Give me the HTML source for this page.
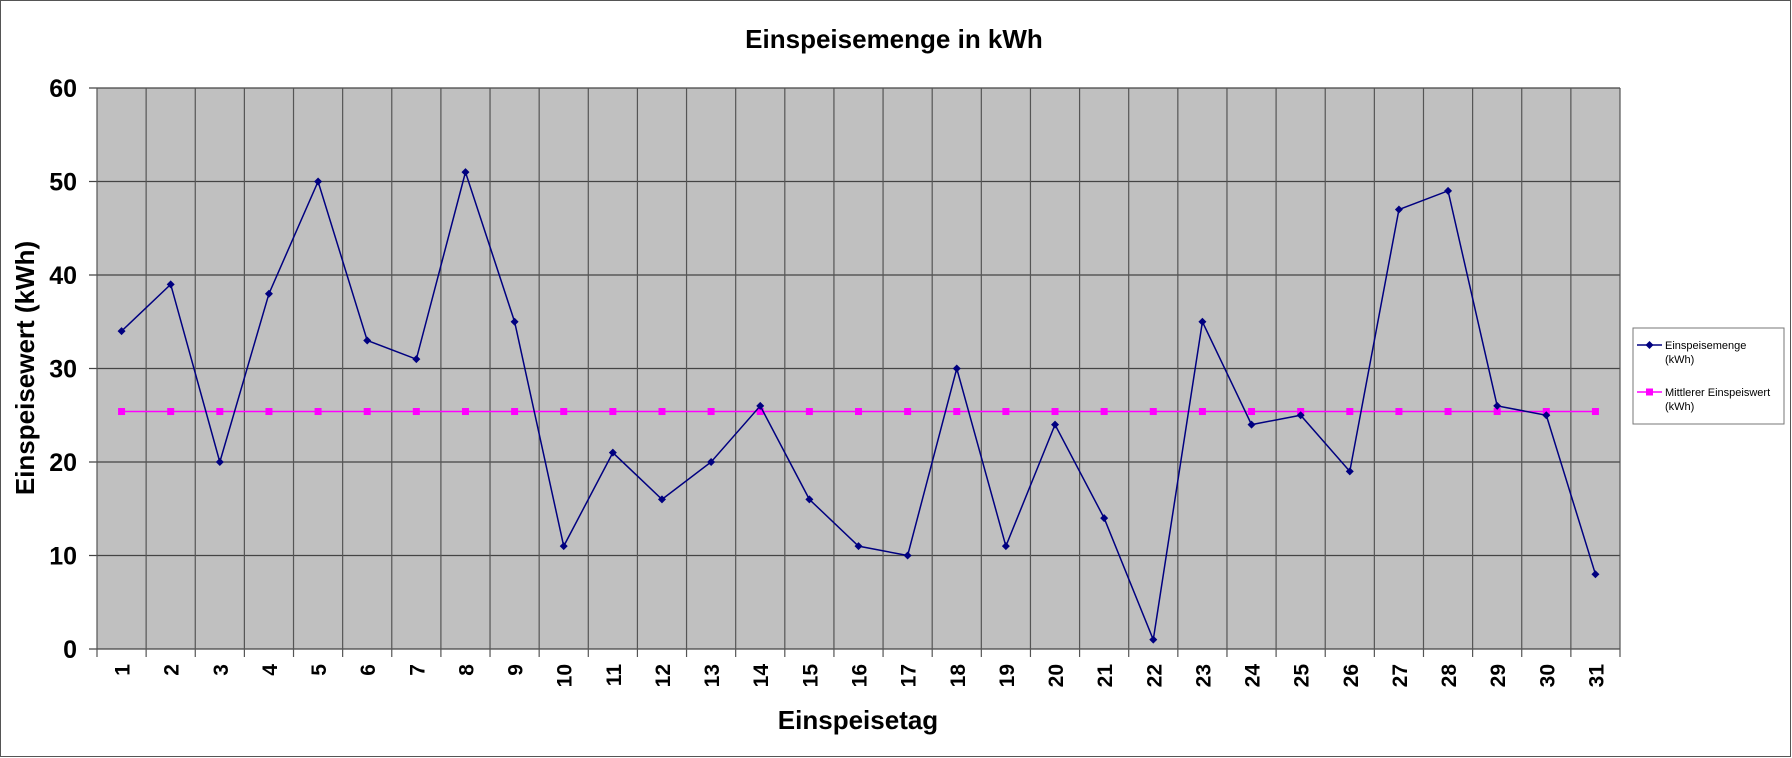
<!DOCTYPE html>
<html><head><meta charset="utf-8"><style>
html,body{margin:0;padding:0;background:#fff}
svg{display:block;font-family:"Liberation Sans",Arial,sans-serif}
</style></head><body>
<svg id="chart" width="1792" height="758">
<rect x="0.5" y="0.5" width="1790" height="756" fill="#fff" stroke="#555"/>
<text x="894" y="48" text-anchor="middle" font-size="26" font-weight="bold">Einspeisemenge in kWh</text>
<rect x="97" y="88" width="1523" height="561" fill="#c0c0c0"/>
<g id="grid"></g><g id="series"></g>
<text transform="translate(34,368) rotate(-90)" text-anchor="middle" font-size="26" font-weight="bold">Einspeisewert  (kWh)</text>
<text x="858" y="729" text-anchor="middle" font-size="26" font-weight="bold">Einspeisetag</text>
<g>
<rect x="1633" y="328" width="151" height="96" fill="#fff" stroke="#777"/>
<line x1="1637" y1="345" x2="1662" y2="345" stroke="#000080" stroke-width="1.5"/>
<path d="M1649.5 341 L1653.5 345 L1649.5 349 L1645.5 345Z" fill="#000080"/>
<text x="1665" y="349" font-size="11">Einspeisemenge</text>
<text x="1665" y="363" font-size="11">(kWh)</text>
<line x1="1637" y1="392" x2="1662" y2="392" stroke="#ff00ff" stroke-width="1.5"/>
<rect x="1646" y="388.5" width="7" height="7" fill="#ff00ff"/>
<text x="1665" y="396" font-size="11">Mittlerer Einspeiswert</text>
<text x="1665" y="410" font-size="11">(kWh)</text>
</g>
</svg>
<script>
const categories=[1,2,3,4,5,6,7,8,9,10,11,12,13,14,15,16,17,18,19,20,21,22,23,24,25,26,27,28,29,30,31];
const einspeisemenge=[34,39,20,38,50,33,31,51,35,11,21,16,20,26,16,11,10,30,11,24,14,1,35,24,25,19,47,49,26,25,8];
const mittelwert=[25.4,25.4,25.4,25.4,25.4,25.4,25.4,25.4,25.4,25.4,25.4,25.4,25.4,25.4,25.4,25.4,25.4,25.4,25.4,25.4,25.4,25.4,25.4,25.4,25.4,25.4,25.4,25.4,25.4,25.4,25.4];
const yTicks=[0,10,20,30,40,50,60];
const L=97,R=1620,T=88,B=649,YMAX=60;
const NS="http://www.w3.org/2000/svg";
const bw=(R-L)/categories.length;
const xs=i=>L+bw*(i+0.5);
const ys=v=>B-(v/YMAX)*(B-T);
function mk(tag,attrs,parent,txt){const e=document.createElementNS(NS,tag);for(const k in attrs)e.setAttribute(k,attrs[k]);if(txt!==undefined)e.textContent=txt;parent.appendChild(e);return e;}
const g=document.getElementById('grid'),s=document.getElementById('series');
yTicks.forEach(v=>{
 const l=mk('line',{x1:L-8,x2:R,y1:ys(v),y2:ys(v),stroke:'#444','stroke-width':1.2},g);
 
 
 const t=mk('text',{x:77,y:ys(v)+9,'text-anchor':'end','font-size':25,'font-weight':'bold'},g,String(v));
 
 
});
for(let i=0;i<=categories.length;i++){
 const x=L+bw*i;
 const l=mk('line',{x1:x,x2:x,y1:T,y2:B+8,stroke:'#555','stroke-width':1.2},g);
 
 
}
categories.forEach((c,i)=>{
 const t=mk('text',{transform:`translate(${xs(i)+8},${664}) rotate(-90)`,'text-anchor':'end','font-size':21,'font-weight':'bold'},g,String(c));
 
 
});
const mp=mk('polyline',{points:mittelwert.map((v,i)=>xs(i)+','+ys(v)).join(' '),fill:'none',stroke:'#ff00ff','stroke-width':1.5},s);


mittelwert.forEach((v,i)=>{
 const r=mk('rect',{x:xs(i)-3.5,y:ys(v)-3.5,width:7,height:7,fill:'#ff00ff'},s);
 
 
});
const lp=mk('polyline',{points:einspeisemenge.map((v,i)=>xs(i)+','+ys(v)).join(' '),fill:'none',stroke:'#000080','stroke-width':1.5},s);


einspeisemenge.forEach((v,i)=>{
 const x=xs(i),y=ys(v);
 const p=mk('path',{d:`M${x} ${y-4}L${x+4} ${y}L${x} ${y+4}L${x-4} ${y}Z`,fill:'#000080'},s);
 
 
});
</script>
</body></html>
